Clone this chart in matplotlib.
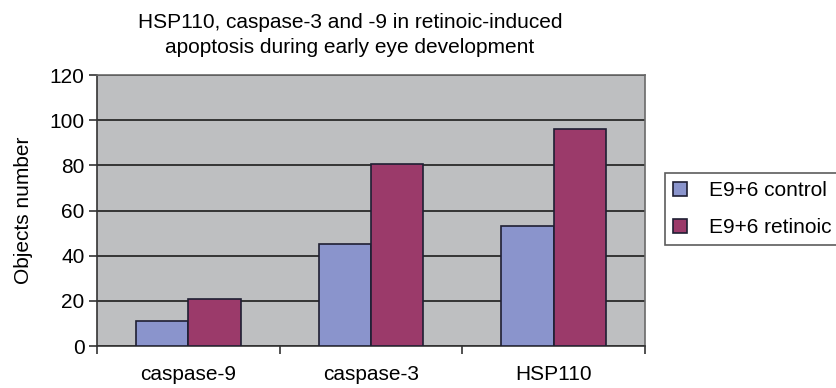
import matplotlib.pyplot as plt
import numpy as np

plt.rcParams['font.family'] = ['Liberation Sans', 'DejaVu Sans']

categories = ['caspase-9', 'caspase-3', 'HSP110']
control = [11, 45, 53]
retinoic = [21, 80.5, 96]
series_names = ['E9+6 control', 'E9+6 retinoic']

fig = plt.figure(figsize=(8.37, 3.88), dpi=100)
ax = fig.add_axes([97 / 837, 1 - 346 / 388, 548 / 837, 271 / 388])
ax.set_facecolor('#bebfc1')

x = np.arange(len(categories))
w = 1 / 3.5
ax.bar(x - w / 2, control, w, color='#8a94cc', edgecolor='#1f1f33', linewidth=1.2,
       label=series_names[0], zorder=3)
ax.bar(x + w / 2, retinoic, w, color='#9b3a6a', edgecolor='#1f1f33', linewidth=1.2,
       label=series_names[1], zorder=3)

ax.set_xlim(-0.5, 2.5)
ax.set_ylim(0, 120)
ax.set_yticks(range(0, 121, 20))
ax.yaxis.grid(True, color='#2a2a2a', linewidth=1.3, zorder=1)
ax.set_axisbelow(True)

# category boundaries get the tick marks, names sit in between
ax.set_xticks(np.arange(-0.5, 3, 1))
ax.set_xticklabels([])
ax.set_xticks(x, minor=True)
ax.set_xticklabels(categories, minor=True, fontsize=15)
ax.tick_params(axis='x', which='minor', length=0, pad=14)
ax.tick_params(axis='x', which='major', length=6, width=1.2, color='#333333')
ax.tick_params(axis='y', length=6, width=1.2, color='#333333', labelsize=15, pad=3)

for side in ['left', 'bottom']:
    ax.spines[side].set_color('#333333')
    ax.spines[side].set_linewidth(1.2)
for side in ['top', 'right']:
    ax.spines[side].set_color('#6a6a6a')
    ax.spines[side].set_linewidth(1.2)

ax.set_ylabel('Objects number', fontsize=15, labelpad=12)
fig.text(350 / 837, 1 - 35 / 388,
         'HSP110, caspase-3 and -9 in retinoic-induced\napoptosis during early eye development',
         ha='center', va='center', fontsize=15, linespacing=1.38)

leg = fig.legend(loc='upper left', bbox_to_anchor=(665 / 837, 1 - 173 / 388),
                 borderaxespad=0, fontsize=15, frameon=True, fancybox=False,
                 handlelength=0.65, handleheight=0.65, handletextpad=1.05,
                 borderpad=0.4, labelspacing=0.85)
leg.get_frame().set_edgecolor('#333333')
leg.get_frame().set_linewidth(1.2)

plt.savefig('out.png', dpi=100)
